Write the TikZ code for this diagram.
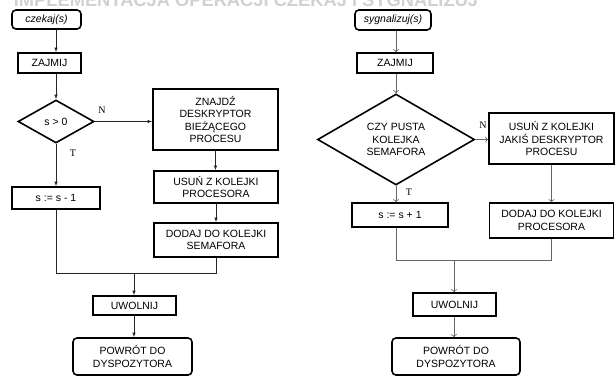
\documentclass[tikz,border=0pt]{standalone}
\usepackage{fontspec}
\setmainfont{Liberation Sans}
\newfontfamily\serifnt{Liberation Serif}
\usetikzlibrary{shapes.geometric,arrows.meta}
\begin{document}
\begin{tikzpicture}[x=1pt,y=-1pt,
 txt/.style={font=\fontsize{10.5}{12.5}\selectfont, align=center, inner sep=0pt},
 box/.style={txt, draw, line width=1.6pt, rectangle},
 rbox/.style={box, rounded corners=4pt},
 dia/.style={txt, draw, line width=1.6pt, diamond, aspect=1.75},
 lbl/.style={font=\serifnt\fontsize{10}{12}\selectfont, inner sep=0pt},
 la/.style={line width=0.8pt, draw=black!85, -{Latex[length=4.5pt,width=3.5pt]}},
 ll/.style={line width=0.8pt, draw=black!85},
 ra/.style={line width=0.7pt, draw=black!60, -{To[length=3pt,width=6pt]}},
 rl/.style={line width=0.7pt, draw=black!60},
]
\useasboundingbox (0,0) rectangle (616,376);
\begin{scope}
\clip (0,0) rectangle (616,376);
\node[anchor=base, font=\bfseries\fontsize{18.3}{20}\selectfont, text=black!18, inner sep=0pt] (title) at (246,6.5) {IMPLEMENTACJA OPERACJI CZEKAJ I SYGNALIZUJ};
\end{scope}

% ---------- left chart ----------
\node[rbox, minimum width=69pt, minimum height=19pt, font=\itshape\fontsize{10.5}{12.5}\selectfont] (c1) at (46.5,19.5) {czekaj(s)};
\node[box, minimum width=63pt, minimum height=20pt] (z1) at (49.5,63) {ZAJMIJ};
\node[dia, minimum width=76pt, minimum height=43pt] (d1) at (56,121.5) {s > 0};
\node[box, minimum width=125pt, minimum height=61pt] (f1) at (215.5,119.5) {ZNAJDŹ\\DESKRYPTOR\\BIEŻĄCEGO\\PROCESU};
\node[box, minimum width=124pt, minimum height=32pt] (u1) at (216,187) {USUŃ Z KOLEJKI\\PROCESORA};
\node[box, minimum width=124pt, minimum height=34pt] (a1) at (216,240) {DODAJ DO KOLEJKI\\SEMAFORA};
\node[box, minimum width=88pt, minimum height=22pt] (s1) at (56,198) {s := s - 1};
\node[box, minimum width=83pt, minimum height=19pt] (w1) at (134.5,305.5) {UWOLNIJ};
\node[rbox, minimum width=119pt, minimum height=37pt] (p1) at (132.5,356.5) {POWRÓT DO\\DYSPOZYTORA};
\coordinate (j1) at (134,273);
\node[lbl] (n1) at (102,110) {N};
\node[lbl] (t1) at (73,153) {T};

\draw[la] (c1.south -| d1.north) -- (z1.north -| d1.north);
\draw[la] (z1.south -| d1.north) -- (d1.north);
\draw[la] (d1.east) -- (f1.west |- d1.east);
\draw[la] (f1.south) -- (u1.north -| f1.south);
\draw[la] (u1.south) -- (a1.north);
\draw[la] (d1.south) -- (s1.north);
\draw[ll] (s1.south) |- (a1.south |- j1) -- (a1.south);
\draw[la] (j1) -- (w1.north -| j1);
\draw[la] (w1.south -| j1) -- (p1.north -| j1);

% ---------- right chart ----------
\node[rbox, minimum width=76pt, minimum height=20pt, font=\itshape\fontsize{10.5}{12.5}\selectfont] (c2) at (393,20) {sygnalizuj(s)};
\node[box, minimum width=76pt, minimum height=20pt] (z2) at (395,63) {ZAJMIJ};
\node[dia, minimum width=157pt, minimum height=91pt] (d2) at (396,139.5) {CZY PUSTA\\KOLEJKA\\SEMAFORA};
\node[box, minimum width=125pt, minimum height=51pt] (u2) at (551.5,138.5) {USUŃ Z KOLEJKI\\JAKIŚ DESKRYPTOR\\PROCESU};
\node[box, minimum width=124pt, minimum height=35pt] (a2) at (551.5,220.5) {DODAJ DO KOLEJKI\\PROCESORA};
\node[box, minimum width=96pt, minimum height=24pt] (s2) at (400,215) {s := s + 1};
\node[box, minimum width=83pt, minimum height=23pt] (w2) at (454.5,304.5) {UWOLNIJ};
\node[rbox, minimum width=128pt, minimum height=37pt] (p2) at (456,356.5) {POWRÓT DO\\DYSPOZYTORA};
\coordinate (j2) at (454,260);
\node[lbl] (n2) at (483,125) {N};
\node[lbl] (t2) at (409,192) {T};

\draw[ra] (c2.south -| d2.north) -- (z2.north -| d2.north);
\draw[ra] (z2.south -| d2.north) -- (d2.north);
\draw[ra] (d2.east) -- (u2.west |- d2.east);
\draw[ra] (u2.south) -- (a2.north);
\draw[ra] (d2.south) -- (s2.north -| d2.south);
\draw[rl] (s2.south -| d2.south) |- (a2.south |- j2) -- (a2.south);
\draw[ra] (j2) -- (w2.north -| j2);
\draw[ra] (w2.south -| j2) -- (p2.north -| j2);
\end{tikzpicture}
\end{document}
